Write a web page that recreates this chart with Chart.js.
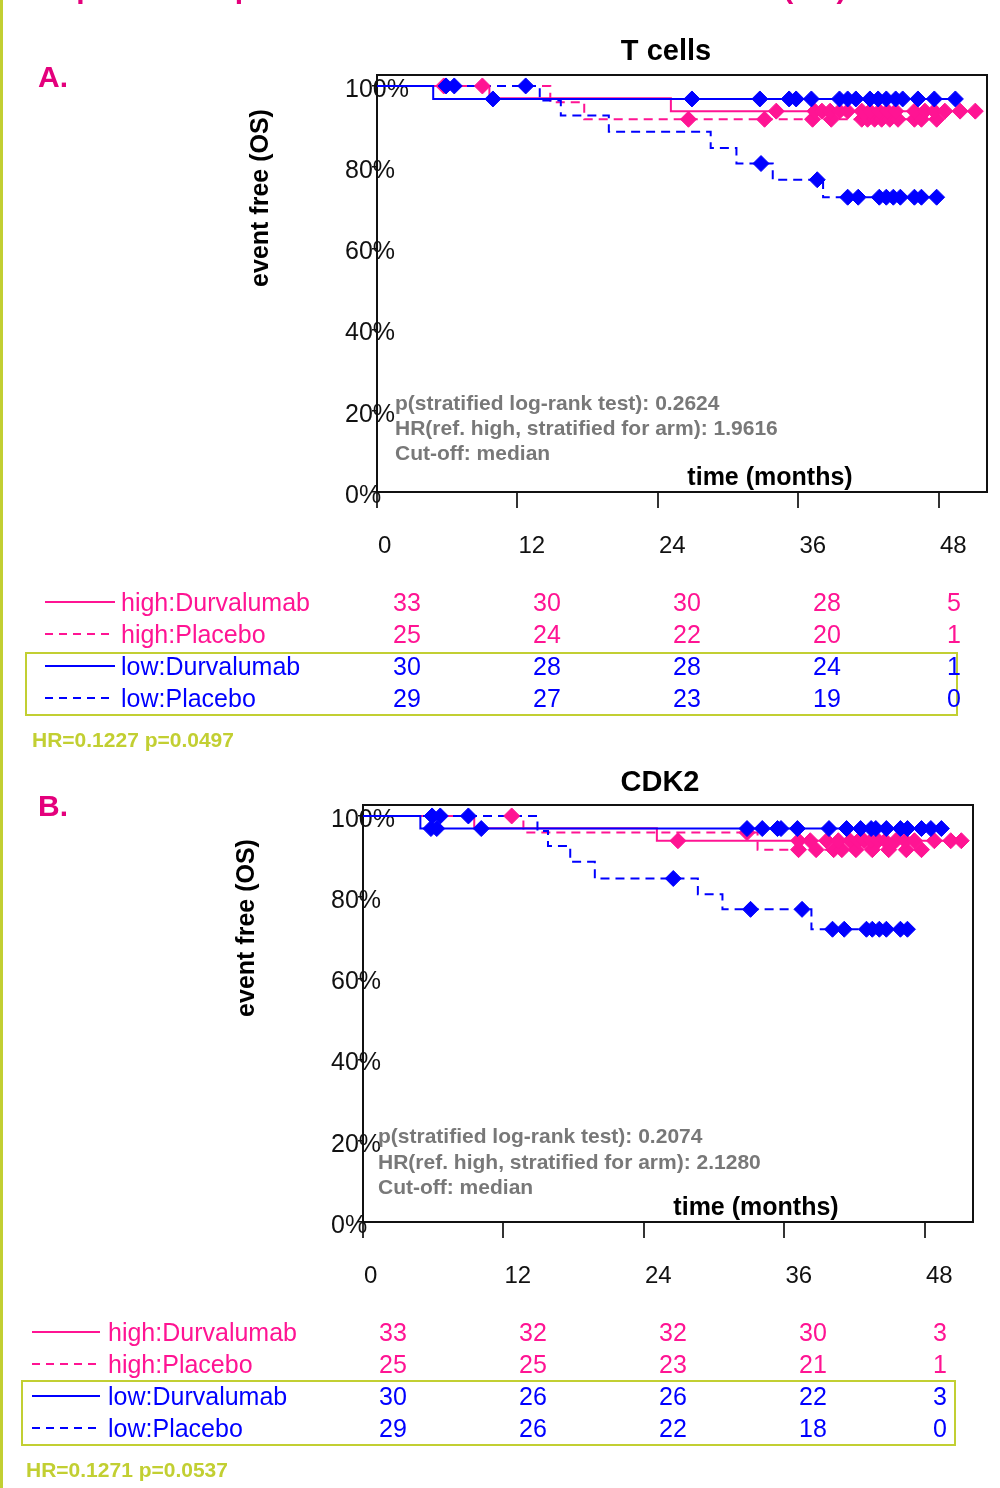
<!DOCTYPE html>
<html><head><meta charset="utf-8">
<script src="https://cdn.jsdelivr.net/npm/chart.js@4.4.1/dist/chart.umd.min.js"></script>
<style>
html,body{margin:0;padding:0;background:#fff}
body{width:1000px;height:1488px;position:relative;overflow:hidden;font-family:"Liberation Sans",Arial,Helvetica,sans-serif}
.abs{position:absolute;white-space:nowrap;line-height:1}
canvas{position:absolute;left:0}
#edge{position:absolute;left:0;top:0;width:3px;height:1488px;background:#c2cf32}
svg{position:absolute;left:0;top:0}
</style>
</head><body>
<div id="edge"></div>
<canvas id="kmA" width="1000" height="580" style="top:0"></canvas>
<canvas id="kmB" width="1000" height="580" style="top:730px"></canvas>
<svg id="ov" width="1000" height="1488"></svg>
<script>
const FONT='"Liberation Sans", Arial, Helvetica, sans-serif';
const PINK='#ff1493',BLUE='#0000ff',MAGENTA='#e4007c',OLIVE='#c2cf32',GRAY='#787878';

// axes
const timeTicks=[0,12,24,36,48];
const survTicks=[0,0.2,0.4,0.6,0.8,1];
const groupNames=['high:Durvalumab','high:Placebo','low:Durvalumab','low:Placebo'];

// A. T cells - event times (months), survival after each event, censor times
const tcHiDurEvt=[9.6,25.1];
const tcHiDurSurv=[0.970,0.938];
const tcHiDurCens=[5.7,34.1,37.4,38.0,38.7,39.5,40.2,41.4,42.1,42.9,43.6,44.3,45.9,46.8,47.6,48.5,49.8,51.1];
const tcHiPlaEvt=[14.8,17.7];
const tcHiPlaSurv=[0.960,0.918];
const tcHiPlaCens=[9.0,26.6,33.1,37.2,38.8,41.4,41.9,42.5,43.1,43.8,44.5,45.9,46.5,47.8];
const tcLoDurEvt=[4.8];
const tcLoDurSurv=[0.968];
const tcLoDurCens=[9.9,26.9,32.7,35.2,35.8,37.1,39.5,40.2,40.9,42.1,42.8,43.5,44.3,44.9,46.2,47.6,49.4];
const tcLoPlaEvt=[13.9,15.7,19.8,28.5,30.7,33.8,38.1];
const tcLoPlaSurv=[0.964,0.927,0.887,0.847,0.809,0.769,0.726];
const tcLoPlaCens=[5.9,6.6,12.7,32.8,37.6,40.2,41.1,42.9,43.5,44.1,44.7,45.9,46.5,47.8];
const tcRiskHiDur=[33,30,30,28,5];
const tcRiskHiPla=[25,24,22,20,1];
const tcRiskLoDur=[30,28,28,24,1];
const tcRiskLoPla=[29,27,23,19,0];

// B. CDK2
const cdkHiDurEvt=[9.5,25.1];
const cdkHiDurSurv=[0.970,0.939];
const cdkHiDurCens=[26.9,37.2,38.2,39.6,40.6,41.6,42.3,42.8,43.4,44.0,44.6,45.5,46.3,47.1,48.8,50.2,51.1];
const cdkHiPlaEvt=[13.7,33.7];
const cdkHiPlaSurv=[0.959,0.917];
const cdkHiPlaCens=[12.7,32.8,37.2,38.7,40.2,40.9,42.1,43.5,44.9,46.4,47.7];
const cdkLoDurEvt=[4.9];
const cdkLoDurSurv=[0.969];
const cdkLoDurCens=[5.8,6.3,10.1,32.8,34.1,35.4,35.7,37.1,39.8,41.3,42.5,43.4,43.8,44.7,45.9,46.5,47.7,48.5,49.4];
const cdkLoPlaEvt=[14.9,15.8,17.7,19.8,28.6,30.7,38.3];
const cdkLoPlaSurv=[0.963,0.926,0.887,0.846,0.807,0.770,0.721];
const cdkLoPlaCens=[5.9,6.6,9.0,26.5,33.1,37.5,40.1,41.1,43.0,43.5,44.1,44.7,45.9,46.5];
const cdkRiskHiDur=[33,32,32,30,3];
const cdkRiskHiPla=[25,25,23,21,1];
const cdkRiskLoDur=[30,26,26,22,3];
const cdkRiskLoPla=[29,26,22,18,0];

Chart.defaults.font.family=FONT;

function stepPts(evt,surv,cens){
  const pts=[{x:0,y:1}];
  evt.forEach((t,i)=>pts.push({x:t,y:surv[i]}));
  pts.push({x:Math.max(...cens,...evt),y:surv[surv.length-1]});
  return pts;
}
function survAt(evt,surv,t){let s=1;evt.forEach((e,i)=>{if(e<=t)s=surv[i]});return s}

function kmSets(evt,surv,cens,color,dashed,ord){
  return [
    {type:'line',data:stepPts(evt,surv,cens),stepped:true,borderColor:color,borderWidth:2,borderDash:dashed?[9,6]:[],pointRadius:0,fill:false,order:ord+2},
    {type:'scatter',data:cens.map(t=>({x:t,y:survAt(evt,surv,t)})),pointStyle:'rectRot',pointRadius:8,backgroundColor:color,borderColor:color,borderWidth:1,showLine:false,order:ord}
  ];
}

function makeKM(id,left,right,datasets){
  // chart area: left..right, top 75, bottom 492 (canvas coords)
  return new Chart(document.getElementById(id),{
    type:'line',
    data:{datasets},
    options:{
      responsive:false,animation:false,devicePixelRatio:1,events:[],
      layout:{padding:{left:left-10,right:1000-right,top:75,bottom:580-492-70}},
      plugins:{legend:{display:false},tooltip:{enabled:false}},
      scales:{
        x:{type:'linear',position:'bottom',min:0,max:52.1,
          afterBuildTicks:s=>{s.ticks=timeTicks.map(v=>({value:v}))},
          afterFit:s=>{s.height=70;s.paddingLeft=0;s.paddingRight=0},
          ticks:{align:'start',padding:24,labelOffset:1,color:'#111',font:{size:24},callback:v=>String(v)},
          grid:{drawOnChartArea:false,tickLength:16,color:'#333',lineWidth:2},
          border:{display:true,color:'#111',width:2}},
        y:{type:'linear',position:'left',min:0,max:1.027,
          afterBuildTicks:s=>{s.ticks=survTicks.map(v=>({value:v}))},
          afterFit:s=>{s.width=10;s.paddingTop=0;s.paddingBottom=0},
          ticks:{mirror:true,padding:-32,labelOffset:4,color:'#111',font:{size:25},callback:v=>Math.round(v*100)+'%'},
          grid:{drawOnChartArea:false,tickLength:5,color:'#111',lineWidth:1.5},
          border:{display:true,color:'#111',width:2}},
        x2:{type:'linear',position:'top',display:true,min:0,max:52.1,
          afterFit:s=>{s.height=0;s.paddingLeft=0;s.paddingRight=0},
          ticks:{display:false},grid:{display:false,drawTicks:false},
          border:{display:true,color:'#111',width:2}},
        y2:{type:'linear',position:'right',display:true,min:0,max:1.027,
          afterFit:s=>{s.width=0;s.paddingTop=0;s.paddingBottom=0},
          ticks:{display:false},grid:{display:false,drawTicks:false},
          border:{display:true,color:'#111',width:2}}
      }
    }
  });
}

makeKM('kmA',377,987,[
  ...kmSets(tcLoDurEvt,tcLoDurSurv,tcLoDurCens,BLUE,false,1),
  ...kmSets(tcLoPlaEvt,tcLoPlaSurv,tcLoPlaCens,BLUE,true,1),
  ...kmSets(tcHiDurEvt,tcHiDurSurv,tcHiDurCens,PINK,false,2),
  ...kmSets(tcHiPlaEvt,tcHiPlaSurv,tcHiPlaCens,PINK,true,2)
]);
makeKM('kmB',363,973,[
  ...kmSets(cdkLoDurEvt,cdkLoDurSurv,cdkLoDurCens,BLUE,false,1),
  ...kmSets(cdkLoPlaEvt,cdkLoPlaSurv,cdkLoPlaCens,BLUE,true,1),
  ...kmSets(cdkHiDurEvt,cdkHiDurSurv,cdkHiDurCens,PINK,false,2),
  ...kmSets(cdkHiPlaEvt,cdkHiPlaSurv,cdkHiPlaCens,PINK,true,2)
]);

// text overlays
function txt(s,x,y,css,center){
  const d=document.createElement('div');d.className='abs';d.textContent=s;
  Object.assign(d.style,css);d.style.left=x+'px';d.style.top=y+'px';
  d.style.transform=center?'translate(-50%,-50%)'+(center==='rot'?' rotate(-90deg)':''):'translateY(-50%)';
  document.body.appendChild(d);
}
const svg=document.getElementById('ov');
function svgEl(tag,attrs){const e=document.createElementNS('http://www.w3.org/2000/svg',tag);for(const k in attrs)e.setAttribute(k,attrs[k]);svg.appendChild(e)}

txt('Kaplan-Meier plots of immune markers and survival (OS)',38,-12,{fontSize:'30px',fontWeight:'bold',color:MAGENTA});

const panels=[
  {lab:'A.',labY:77,title:'T cells',tx:666,ty:50,yx:259,yy:198,ax:395,ay:[402,427,452],
   stats:['p(stratified log-rank test): 0.2624','HR(ref. high, stratified for arm): 1.9616','Cut-off: median'],
   tmx:770,tmy:476,rows:[602,634,666,698],lineX:[45,115],labX:121,colX:[407,547,687,827,954],
   risk:[tcRiskHiDur,tcRiskHiPla,tcRiskLoDur,tcRiskLoPla],box:[26,653,931,62],hr:'HR=0.1227 p=0.0497',hrX:32,hrY:739},
  {lab:'B.',labY:806,title:'CDK2',tx:660,ty:781,yx:245,yy:928,ax:378,ay:[1135,1161,1186],
   stats:['p(stratified log-rank test): 0.2074','HR(ref. high, stratified for arm): 2.1280','Cut-off: median'],
   tmx:756,tmy:1206,rows:[1332,1364,1396,1428],lineX:[32,100],labX:108,colX:[393,533,673,813,940],
   risk:[cdkRiskHiDur,cdkRiskHiPla,cdkRiskLoDur,cdkRiskLoPla],box:[22,1381,933,64],hr:'HR=0.1271 p=0.0537',hrX:26,hrY:1469}
];
const rowColor=[PINK,PINK,BLUE,BLUE],rowDash=[false,true,false,true];
panels.forEach(p=>{
  txt(p.lab,38,p.labY,{fontSize:'30px',fontWeight:'bold',color:MAGENTA});
  txt(p.title,p.tx,p.ty,{fontSize:'29px',fontWeight:'bold',color:'#000'},'c');
  txt('event free (OS)',p.yx,p.yy,{fontSize:'25px',fontWeight:'bold',color:'#000'},'rot');
  p.stats.forEach((s,i)=>txt(s,p.ax,p.ay[i],{fontSize:'21px',fontWeight:'bold',color:GRAY}));
  txt('time (months)',p.tmx,p.tmy,{fontSize:'25px',fontWeight:'bold',color:'#000'},'c');
  p.rows.forEach((y,i)=>{
    svgEl('line',{x1:p.lineX[0],x2:p.lineX[1],y1:y,y2:y,stroke:rowColor[i],'stroke-width':2,'stroke-dasharray':rowDash[i]?'8,6':'none'});
    txt(groupNames[i],p.labX,y,{fontSize:'25px',color:rowColor[i]});
    p.risk[i].forEach((n,j)=>txt(String(n),p.colX[j],y,{fontSize:'25px',color:rowColor[i]},'c'));
  });
  svgEl('rect',{x:p.box[0],y:p.box[1],width:p.box[2],height:p.box[3],fill:'none',stroke:OLIVE,'stroke-width':2});
  txt(p.hr,p.hrX,p.hrY,{fontSize:'21px',fontWeight:'bold',color:OLIVE});
});
</script>
</body></html>
